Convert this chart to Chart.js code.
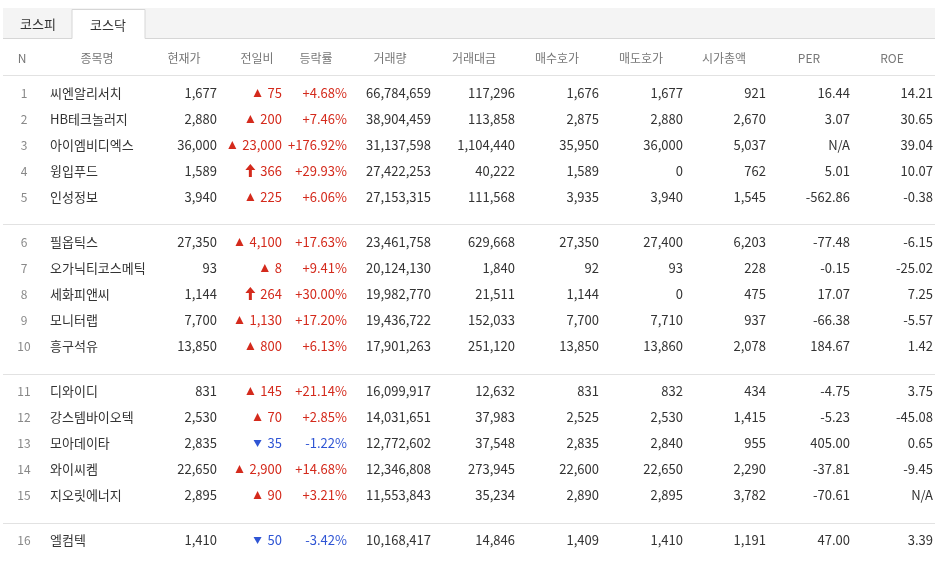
<!DOCTYPE html>
<html>
<head>
<meta charset="utf-8">
<script src="https://cdn.jsdelivr.net/npm/chart.js@4/dist/chart.umd.min.js"></script>
<style>
html, body { margin: 0; padding: 0; background: #fff; }
#wrap { width: 943px; height: 563px; }
</style>
</head>
<body>
<div id="wrap"><canvas id="tbl"></canvas></div>
<script>
//DATA
const tabs = ['코스피', '코스닥'];
const headers = ['N', '종목명', '현재가', '전일비', '등락률', '거래량', '거래대금', '매수호가', '매도호가', '시가총액', 'PER', 'ROE'];
const names = ['씨엔알리서치', 'HB테크놀러지', '아이엠비디엑스', '윙입푸드', '인성정보',
    '필옵틱스', '오가닉티코스메틱', '세화피앤씨', '모니터랩', '흥구석유',
    '디와이디', '강스템바이오텍', '모아데이타', '와이씨켐', '지오릿에너지', '엘컴텍'];
const prices = ['1,677', '2,880', '36,000', '1,589', '3,940', '27,350', '93', '1,144', '7,700', '13,850',
    '831', '2,530', '2,835', '22,650', '2,895', '1,410'];
const changes = ['75', '200', '23,000', '366', '225', '4,100', '8', '264', '1,130', '800',
    '145', '70', '35', '2,900', '90', '50'];
const changeKinds = ['up', 'up', 'up', 'upper', 'up', 'up', 'up', 'upper', 'up', 'up',
    'up', 'up', 'down', 'up', 'up', 'down'];
const rates = ['+4.68%', '+7.46%', '+176.92%', '+29.93%', '+6.06%', '+17.63%', '+9.41%', '+30.00%', '+17.20%', '+6.13%',
    '+21.14%', '+2.85%', '-1.22%', '+14.68%', '+3.21%', '-3.42%'];
const volumes = ['66,784,659', '38,904,459', '31,137,598', '27,422,253', '27,153,315', '23,461,758', '20,124,130', '19,982,770', '19,436,722', '17,901,263',
    '16,099,917', '14,031,651', '12,772,602', '12,346,808', '11,553,843', '10,168,417'];
const amounts = ['117,296', '113,858', '1,104,440', '40,222', '111,568', '629,668', '1,840', '21,511', '152,033', '251,120',
    '12,632', '37,983', '37,548', '273,945', '35,234', '14,846'];
const bids = ['1,676', '2,875', '35,950', '1,589', '3,935', '27,350', '92', '1,144', '7,700', '13,850',
    '831', '2,525', '2,835', '22,600', '2,890', '1,409'];
const asks = ['1,677', '2,880', '36,000', '0', '3,940', '27,400', '93', '0', '7,710', '13,860',
    '832', '2,530', '2,840', '22,650', '2,895', '1,410'];
const caps = ['921', '2,670', '5,037', '762', '1,545', '6,203', '228', '475', '937', '2,078',
    '434', '1,415', '955', '2,290', '3,782', '1,191'];
const pers = ['16.44', '3.07', 'N/A', '5.01', '-562.86', '-77.48', '-0.15', '17.07', '-66.38', '184.67',
    '-4.75', '-5.23', '405.00', '-37.81', '-70.61', '47.00'];
const roes = ['14.21', '30.65', '39.04', '10.07', '-0.38', '-6.15', '-25.02', '7.25', '-5.57', '1.42',
    '3.75', '-45.08', '0.65', '-9.45', 'N/A', '3.39'];

// layout (pixel positions on a 0..943 / 0..563 linear scale)
const headerX = [22, 97, 184, 257, 316, 390, 474, 557, 641, 724, 809, 892];
const cellRight = [null, null, 217, 282, 347, 431, 515, 599, 683, 766, 850, 933];

const RED = '#d42a1c', BLUE = '#2f55d4', TXT = '#333', GREY = '#777';
const FONT = '"Noto Sans CJK KR", "Noto Sans", sans-serif';

function rowY(i) { return 93 + i * 26 + Math.floor(i / 5) * 19 - (i >= 10 ? 0 : 0); }

const tablePlugin = {
    id: 'table',
    afterDraw(chart) {
        const ctx = chart.ctx, xs = chart.scales.x, ys = chart.scales.y;
        const X = v => xs.getPixelForValue(v), Y = v => ys.getPixelForValue(v);
        ctx.save();
        // tabs
        ctx.fillStyle = '#f4f4f4';
        ctx.fillRect(X(3), Y(8), X(935) - X(3), Y(38) - Y(8));
        ctx.fillStyle = '#fff';
        ctx.fillRect(X(72), Y(9), X(145) - X(72), Y(39) - Y(9));
        ctx.strokeStyle = '#d6d6d6'; ctx.lineWidth = 1;
        ctx.beginPath();
        ctx.moveTo(X(3), Y(38.5)); ctx.lineTo(X(72), Y(38.5));
        ctx.lineTo(X(72), Y(9.5)); ctx.lineTo(X(145), Y(9.5)); ctx.lineTo(X(145), Y(38.5));
        ctx.lineTo(X(935), Y(38.5));
        ctx.stroke();
        ctx.font = '13px ' + FONT; ctx.fillStyle = '#333';
        ctx.textAlign = 'center'; ctx.textBaseline = 'middle';
        ctx.fillText(tabs[0], X(38), Y(24));
        ctx.fillText(tabs[1], X(108), Y(25));
        // header
        ctx.font = '12px ' + FONT; ctx.fillStyle = GREY;
        headers.forEach((h, c) => ctx.fillText(h, X(headerX[c]), Y(58)));
        ctx.strokeStyle = '#e2e2e2';
        [75.5, 224.5, 374.5, 523.5].forEach(yy => {
            ctx.beginPath(); ctx.moveTo(X(3), Y(yy)); ctx.lineTo(X(935), Y(yy)); ctx.stroke();
        });
        // rows
        names.forEach((nm, i) => {
            const y = Y(rowY(i));
            ctx.textAlign = 'center'; ctx.font = '12px ' + FONT; ctx.fillStyle = '#888';
            ctx.fillText(String(i + 1), X(24), y);
            ctx.textAlign = 'left'; ctx.font = '13px ' + FONT; ctx.fillStyle = TXT;
            ctx.fillText(nm, X(50), y);
            ctx.textAlign = 'right';
            const kind = changeKinds[i];
            const col = kind === 'down' ? BLUE : RED;
            const cols = [prices, changes, rates, volumes, amounts, bids, asks, caps, pers, roes];
            cols.forEach((arr, k) => {
                const c = k + 2;
                ctx.fillStyle = (c === 3 || c === 4) ? col : TXT;
                ctx.fillText(arr[i], X(cellRight[c]), y);
            });
            // change marker
            const w = ctx.measureText(changes[i]).width;
            const mx = X(cellRight[3]) - w - 10;
            ctx.fillStyle = col;
            ctx.beginPath();
            if (kind === 'up') {
                ctx.moveTo(mx - 4, y + 4); ctx.lineTo(mx + 4, y + 4); ctx.lineTo(mx, y - 4);
            } else if (kind === 'down') {
                ctx.moveTo(mx - 4, y - 3); ctx.lineTo(mx + 4, y - 3); ctx.lineTo(mx, y + 4);
            } else {
                ctx.moveTo(mx - 5, y - 1); ctx.lineTo(mx, y - 7); ctx.lineTo(mx + 5, y - 1);
                ctx.lineTo(mx + 1.5, y - 1); ctx.lineTo(mx + 1.5, y + 6); ctx.lineTo(mx - 1.5, y + 6);
                ctx.lineTo(mx - 1.5, y - 1);
            }
            ctx.closePath(); ctx.fill();
        });
        ctx.restore();
    }
};

new Chart(document.getElementById('tbl'), {
    type: 'scatter',
    data: { datasets: [{ data: [] }] },
    options: {
        responsive: true,
        maintainAspectRatio: false,
        animation: false,
        layout: { padding: 0 },
        plugins: { legend: { display: false }, tooltip: { enabled: false } },
        scales: {
            x: { type: 'linear', min: 0, max: 943, display: false },
            y: { type: 'linear', min: 0, max: 563, reverse: true, display: false }
        }
    },
    plugins: [tablePlugin]
});
</script>
</body>
</html>
